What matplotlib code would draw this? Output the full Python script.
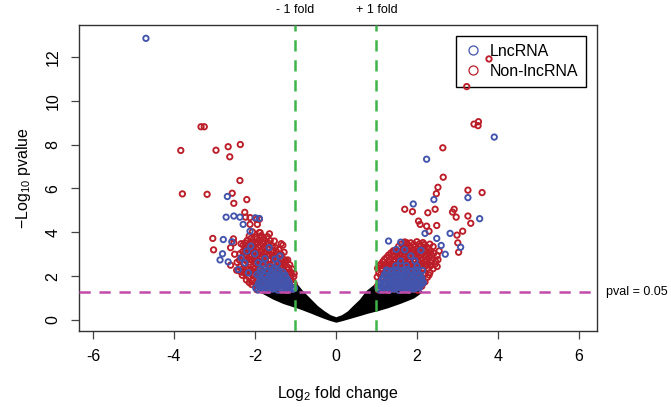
import matplotlib
matplotlib.use("Agg")
import matplotlib.pyplot as plt
from matplotlib.lines import Line2D
import matplotlib.transforms as mtransforms

plt.rcParams['font.family'] = ['Liberation Sans', 'DejaVu Sans']
plt.rcParams['mathtext.fontset'] = 'custom'
plt.rcParams['mathtext.rm'] = 'Liberation Sans'
plt.rcParams['mathtext.it'] = 'Liberation Sans:italic'
plt.rcParams['axes.unicode_minus'] = False

# envelope of the non-significant genes (black cloud)
black_x = [-1.85, -1.55, -1.3, -1.0, -0.99, -0.84, -0.6, -0.47, -0.3, -0.15, 0.0, 0.15,
           0.3, 0.43, 0.6, 0.76, 0.99, 1.0, 1.26, 1.6, 1.91, 2.1]
black_lo = [1.30, 1.00, 0.80, 0.62, 0.62, 0.52, 0.35, 0.25, 0.13, 0.03, -0.05, 0.02,
            0.10, 0.17, 0.26, 0.35, 0.46, 0.46, 0.60, 0.82, 1.05, 1.30]
black_hi = [1.30, 1.32, 1.32, 1.32, 1.65, 1.31, 0.86, 0.62, 0.38, 0.20, 0.10, 0.20,
            0.38, 0.62, 0.92, 1.31, 1.65, 1.32, 1.32, 1.32, 1.32, 1.30]

# non-lncRNA significant genes
red_left = [
    (-1.95, 1.38), (-1.81, 1.42), (-1.66, 1.36), (-1.52, 1.44), (-1.37, 1.39), (-1.21, 1.35), (-1.06, 1.41),
    (-2.08, 1.62), (-1.94, 1.57), (-1.83, 1.66), (-1.69, 1.58), (-1.56, 1.63), (-1.41, 1.55), (-1.29, 1.64),
    (-1.16, 1.59), (-1.03, 1.66),
    (-2.14, 1.71), (-2.00, 1.69), (-1.86, 1.72), (-1.72, 1.68), (-1.58, 1.71), (-1.45, 1.69), (-1.32, 1.72),
    (-1.19, 1.68), (-1.06, 1.71),
    (-2.21, 1.83), (-2.06, 1.77), (-1.91, 1.85), (-1.77, 1.79), (-1.63, 1.86), (-1.49, 1.78), (-1.35, 1.84),
    (-1.23, 1.76), (-1.09, 1.82),
    (-2.31, 2.04), (-2.16, 1.97), (-2.01, 2.05), (-1.86, 1.99), (-1.71, 2.06), (-1.59, 1.98), (-1.44, 2.03),
    (-1.31, 1.96), (-1.16, 2.04), (-1.04, 1.98),
    (-2.24, 2.11), (-2.08, 2.09), (-1.94, 2.12), (-1.80, 2.08), (-1.65, 2.11), (-1.51, 2.09), (-1.37, 2.12),
    (-1.23, 2.08), (-1.10, 2.11),
    (-2.39, 2.24), (-2.24, 2.18), (-2.11, 2.26), (-1.97, 2.19), (-1.82, 2.25), (-1.69, 2.17), (-1.54, 2.23),
    (-1.41, 2.16), (-1.27, 2.22), (-1.13, 2.19), (-1.03, 2.12),
    (-2.30, 2.33), (-2.16, 2.31), (-2.02, 2.34), (-1.88, 2.30), (-1.74, 2.33), (-1.58, 2.31), (-1.45, 2.34),
    (-1.31, 2.30), (-1.16, 2.33),
    (-2.36, 2.42), (-2.21, 2.37), (-2.04, 2.45), (-1.91, 2.38), (-1.76, 2.44), (-1.63, 2.36), (-1.47, 2.43),
    (-1.34, 2.38), (-1.19, 2.41), (-1.08, 2.33),
    (-2.10, 2.30), (-1.90, 2.52), (-1.62, 2.48), (-1.36, 2.50),
    (-2.44, 2.63), (-2.27, 2.57), (-2.13, 2.65), (-1.99, 2.58), (-1.84, 2.64), (-1.71, 2.56), (-1.55, 2.62),
    (-1.41, 2.57), (-1.26, 2.63), (-1.14, 2.52),
    (-2.38, 2.73), (-2.22, 2.71), (-2.08, 2.74), (-1.94, 2.70), (-1.79, 2.73), (-1.66, 2.71), (-1.51, 2.74),
    (-1.37, 2.70), (-1.25, 2.72),
    (-2.31, 2.83), (-2.14, 2.77), (-2.01, 2.85), (-1.87, 2.78), (-1.73, 2.84), (-1.61, 2.76), (-1.44, 2.82),
    (-1.31, 2.79), (-1.19, 2.74),
    (-2.28, 2.93), (-2.12, 2.91), (-1.98, 2.94), (-1.84, 2.90), (-1.70, 2.93), (-1.55, 2.91), (-1.41, 2.94),
    (-2.37, 3.02), (-2.21, 2.97), (-2.04, 3.05), (-1.93, 2.98), (-1.77, 3.04), (-1.64, 2.96), (-1.49, 3.03),
    (-1.35, 2.99),
    (-2.30, 3.12), (-2.15, 3.10), (-2.00, 3.13), (-1.86, 3.10), (-1.73, 3.12), (-1.60, 3.11), (-1.47, 3.13),
    (-2.24, 3.23), (-2.09, 3.17), (-1.96, 3.25), (-1.81, 3.18), (-1.67, 3.24), (-1.54, 3.16), (-1.41, 3.21),
    (-2.20, 3.32), (-2.05, 3.30), (-1.92, 3.33), (-1.78, 3.30), (-1.64, 3.32), (-1.50, 3.31),
    (-2.29, 3.42), (-2.14, 3.38), (-1.99, 3.45), (-1.86, 3.37), (-1.71, 3.44), (-1.57, 3.36), (-1.31, 3.41),
    (-2.24, 3.52), (-2.10, 3.51), (-1.96, 3.53), (-1.82, 3.50), (-1.68, 3.52),
    (-2.19, 3.63), (-2.04, 3.57), (-1.91, 3.64), (-1.76, 3.58), (-1.62, 3.62),
    (-2.10, 3.72), (-1.95, 3.71), (-1.78, 3.73),
    (-2.14, 3.83), (-1.97, 3.78), (-1.84, 3.85), (-1.69, 3.80),
    (-2.06, 4.02), (-1.89, 3.99),
    (-3.33, 8.81), (-3.25, 8.81), (-3.83, 7.73), (-2.96, 7.74), (-2.66, 7.90), (-2.36, 8.00), (-2.62, 7.44),
    (-2.37, 6.36), (-3.79, 5.75), (-3.18, 5.73), (-2.56, 5.78), (-2.20, 5.49), (-2.52, 5.32), (-2.25, 4.91),
    (-2.23, 4.69), (-2.12, 4.67), (-1.96, 4.59), (-1.89, 4.59), (-3.04, 3.72), (-3.02, 3.20), (-2.60, 2.50),
    (-2.45, 2.27), (-2.32, 2.18), (-2.12, 4.36), (-1.94, 4.36), (-1.87, 3.98), (-1.64, 3.93), (-1.52, 3.60),
    (-1.35, 3.48), (-1.28, 3.09), (-1.23, 2.70), (-2.53, 3.70), (-2.52, 3.52), (-2.34, 3.48), (-2.50, 3.00),
    (-2.60, 3.30),
]

red_right = [
    (1.05, 1.37), (1.18, 1.41), (1.30, 1.35), (1.43, 1.40), (1.55, 1.36), (1.68, 1.42), (1.80, 1.37),
    (1.92, 1.40), (2.02, 1.36),
    (1.03, 1.56), (1.15, 1.52), (1.28, 1.58), (1.40, 1.53), (1.52, 1.57), (1.65, 1.51), (1.78, 1.56),
    (1.90, 1.53), (2.04, 1.58), (2.12, 1.54),
    (1.10, 1.66), (1.22, 1.65), (1.35, 1.67), (1.48, 1.64), (1.60, 1.66), (1.73, 1.65), (1.86, 1.67),
    (2.00, 1.64), (2.14, 1.66),
    (1.08, 1.76), (1.20, 1.72), (1.33, 1.77), (1.46, 1.73), (1.58, 1.78), (1.70, 1.71), (1.84, 1.76),
    (1.97, 1.72), (2.10, 1.77), (2.20, 1.74),
    (1.02, 1.96), (1.14, 1.92), (1.26, 1.97), (1.38, 1.93), (1.50, 1.98), (1.63, 1.91), (1.76, 1.96),
    (1.88, 1.93), (2.00, 1.97), (2.14, 1.92), (2.26, 1.95),
    (1.10, 2.06), (1.22, 2.05), (1.35, 2.07), (1.48, 2.04), (1.62, 2.06), (1.76, 2.05), (1.90, 2.07),
    (2.03, 2.04), (2.17, 2.06), (2.30, 2.05),
    (1.06, 2.16), (1.18, 2.12), (1.31, 2.17), (1.44, 2.13), (1.56, 2.18), (1.70, 2.11), (1.82, 2.16),
    (1.95, 2.12), (2.08, 2.17), (2.20, 2.13), (2.32, 2.16),
    (1.03, 2.36), (1.13, 2.33), (1.25, 2.37), (1.37, 2.32), (1.50, 2.38), (1.62, 2.31), (1.75, 2.36),
    (1.88, 2.33), (2.02, 2.37), (2.15, 2.32), (2.28, 2.36), (2.40, 2.34),
    (1.07, 2.46), (1.18, 2.45), (1.30, 2.47), (1.43, 2.44), (1.55, 2.46), (1.68, 2.45), (1.80, 2.47),
    (1.94, 2.44), (2.07, 2.46), (2.20, 2.45), (2.34, 2.47), (2.50, 2.44),
    (1.12, 2.56), (1.24, 2.52), (1.36, 2.57), (1.48, 2.53), (1.60, 2.58), (1.73, 2.51), (1.86, 2.56),
    (1.98, 2.53), (2.12, 2.57), (2.26, 2.52), (2.45, 2.55),
    (1.16, 2.66), (1.30, 2.65), (1.42, 2.67), (1.54, 2.64), (1.66, 2.66), (1.80, 2.65), (1.92, 2.67),
    (2.05, 2.64), (2.18, 2.66), (2.32, 2.65), (2.46, 2.67),
    (1.20, 2.76), (1.34, 2.72), (1.46, 2.77), (1.58, 2.73), (1.70, 2.78), (1.84, 2.71), (1.96, 2.76),
    (2.10, 2.73), (2.24, 2.77), (2.38, 2.72), (2.52, 2.75),
    (1.25, 2.85), (1.52, 2.85), (1.78, 2.88), (2.02, 2.86), (2.30, 2.86),
    (1.30, 2.96), (1.45, 2.92), (1.57, 2.97), (1.70, 2.93), (1.82, 2.98), (1.95, 2.91), (2.08, 2.96),
    (2.22, 2.93), (2.36, 2.97), (2.50, 2.94),
    (1.36, 3.06), (1.50, 3.05), (1.62, 3.05), (1.75, 3.07), (1.88, 3.05), (2.00, 3.06), (2.14, 3.04),
    (2.27, 3.06), (2.42, 3.05),
    (1.42, 3.16), (1.55, 3.12), (1.68, 3.17), (1.80, 3.13), (1.93, 3.18), (2.06, 3.11), (2.20, 3.16),
    (2.34, 3.13), (2.55, 3.15),
    (1.75, 3.25), (2.02, 3.25), (2.30, 3.24),
    (1.55, 3.36), (1.68, 3.32), (1.80, 3.37), (1.95, 3.33), (2.10, 3.38), (2.25, 3.31), (2.40, 3.35),
    (1.62, 3.46), (1.76, 3.45), (1.92, 3.45), (2.06, 3.47), (2.18, 3.44), (2.32, 3.46),
    (1.70, 3.56), (1.85, 3.52), (2.00, 3.57), (2.15, 3.53),
    (3.78, 11.90), (3.23, 10.64), (3.41, 8.93), (3.52, 9.04), (3.51, 8.86), (2.64, 7.85), (2.65, 6.51),
    (2.52, 6.05), (2.48, 5.76), (3.26, 5.92), (3.61, 5.81), (1.70, 5.05), (1.89, 4.94), (2.27, 4.89),
    (2.45, 5.05), (2.88, 4.92), (2.92, 5.05), (2.97, 4.69), (3.26, 4.74), (3.33, 4.41), (2.04, 4.51),
    (2.08, 4.36), (2.24, 4.28), (2.49, 4.31), (2.30, 4.05), (2.99, 3.87), (3.13, 4.05), (3.03, 3.09),
    (3.01, 3.52), (1.42, 3.11), (1.09, 2.50), (1.75, 3.52),
]

# lncRNA significant genes
blue_left = [
    (-1.92, 1.37), (-1.79, 1.40), (-1.67, 1.35), (-1.55, 1.41), (-1.43, 1.36), (-1.31, 1.42), (-1.19, 1.37),
    (-1.07, 1.40),
    (-1.98, 1.46), (-1.85, 1.47), (-1.73, 1.45), (-1.61, 1.47), (-1.49, 1.46), (-1.37, 1.45), (-1.25, 1.47),
    (-1.13, 1.46), (-1.02, 1.45),
    (-1.86, 1.55), (-1.73, 1.52), (-1.61, 1.57), (-1.49, 1.53), (-1.37, 1.58), (-1.25, 1.51), (-1.13, 1.56),
    (-1.92, 1.63), (-1.80, 1.64), (-1.68, 1.62), (-1.56, 1.64), (-1.43, 1.63), (-1.31, 1.62), (-1.19, 1.64),
    (-1.89, 1.72), (-1.77, 1.69), (-1.65, 1.74), (-1.52, 1.70), (-1.40, 1.75), (-1.28, 1.68), (-1.16, 1.73),
    (-1.86, 1.81), (-1.74, 1.82), (-1.62, 1.80), (-1.49, 1.82), (-1.37, 1.81), (-1.24, 1.80),
    (-1.83, 1.90), (-1.70, 1.87), (-1.58, 1.92), (-1.45, 1.88), (-1.33, 1.93), (-1.20, 1.86),
    (-1.90, 1.99), (-1.77, 2.00), (-1.64, 1.98), (-1.52, 2.00), (-1.40, 1.99), (-1.27, 1.98),
    (-1.95, 2.08), (-1.76, 2.05), (-1.62, 2.10), (-1.50, 2.06), (-1.38, 2.11), (-1.25, 2.04),
    (-1.85, 2.18), (-1.69, 2.19), (-1.56, 2.17), (-1.44, 2.19), (-1.31, 2.18),
    (-1.87, 2.30), (-1.70, 2.26), (-1.55, 2.32), (-1.42, 2.27),
    (-1.62, 2.43),
    (-1.80, 2.55), (-1.45, 2.57),
    (-1.75, 2.80), (-1.50, 2.78),
    (-2.00, 3.02), (-1.65, 3.30), (-1.92, 2.62), (-2.25, 2.60), (-1.38, 2.92), (-2.10, 3.37), (-2.20, 3.14),
    (-2.41, 2.30), (-2.16, 2.15), (-2.34, 2.84), (-2.57, 3.57), (-2.29, 4.36), (-2.12, 4.05), (-2.78, 3.67),
    (-2.80, 3.02), (-2.86, 2.74), (-2.66, 2.65), (-2.71, 4.69), (-2.52, 4.74), (-2.37, 4.69), (-1.99, 4.66),
    (-1.89, 4.63), (-2.68, 5.63), (-4.69, 12.84),
]

blue_right = [
    (1.08, 1.37), (1.20, 1.40), (1.32, 1.36), (1.44, 1.41), (1.56, 1.35), (1.68, 1.40), (1.80, 1.37),
    (1.92, 1.41),
    (1.04, 1.46), (1.14, 1.47), (1.26, 1.45), (1.38, 1.47), (1.50, 1.46), (1.62, 1.45), (1.74, 1.47),
    (1.86, 1.46), (1.98, 1.45), (2.06, 1.47),
    (1.12, 1.55), (1.24, 1.52), (1.36, 1.57), (1.48, 1.53), (1.60, 1.56), (1.72, 1.51), (1.84, 1.56),
    (1.96, 1.53), (2.08, 1.57),
    (1.06, 1.64), (1.18, 1.63), (1.30, 1.65), (1.42, 1.64), (1.54, 1.63), (1.66, 1.65), (1.78, 1.64),
    (1.90, 1.63), (2.02, 1.65), (2.12, 1.64),
    (1.10, 1.72), (1.22, 1.69), (1.34, 1.74), (1.46, 1.70), (1.58, 1.75), (1.70, 1.68), (1.82, 1.73),
    (1.94, 1.70), (2.06, 1.74), (2.16, 1.71),
    (1.16, 1.82), (1.28, 1.80), (1.40, 1.82), (1.52, 1.81), (1.64, 1.80), (1.76, 1.82),
    (1.88, 1.81), (2.00, 1.80), (2.12, 1.82),
    (1.15, 1.90), (1.27, 1.87), (1.39, 1.92), (1.51, 1.88), (1.63, 1.93), (1.75, 1.86), (1.87, 1.91),
    (2.00, 1.88), (2.12, 1.92),
    (1.22, 2.00), (1.34, 1.98), (1.46, 2.00), (1.58, 1.99), (1.70, 1.98), (1.82, 2.00),
    (1.94, 1.99), (2.06, 1.98),
    (1.20, 2.08), (1.32, 2.05), (1.44, 2.10), (1.56, 2.06), (1.68, 2.11), (1.80, 2.04), (1.92, 2.09),
    (2.04, 2.06),
    (1.26, 2.19), (1.38, 2.17), (1.50, 2.19), (1.62, 2.18), (1.74, 2.17), (1.86, 2.19),
    (1.98, 2.18),
    (1.25, 2.28), (1.38, 2.25), (1.50, 2.30), (1.62, 2.26), (1.75, 2.31), (1.88, 2.24), (2.00, 2.29),
    (2.14, 2.26),
    (1.48, 2.47), (1.74, 2.48), (2.00, 2.46),
    (1.60, 2.69), (1.95, 2.70),
    (1.85, 2.92),
    (1.70, 3.20), (2.10, 3.18),
    (1.49, 3.22), (2.20, 3.95), (2.82, 3.95), (2.49, 3.72), (3.08, 3.32), (1.91, 5.29), (2.42, 5.49),
    (3.26, 5.58), (2.24, 7.33), (3.91, 8.34), (3.55, 4.62), (1.30, 3.60), (1.60, 3.55), (2.60, 3.40),
    (2.70, 3.00),
]

fold_cut = [-1, 1]
pval_cut = 1.30  # -log10(0.05)

red = '#BC1E29'
blue = '#4254AC'

fig = plt.figure(figsize=(6.71, 4.07), dpi=100)
ax = fig.add_axes([0.1173, 0.1867, 0.772, 0.752])

ax.fill_between(black_x, black_lo, black_hi, color='black', lw=1.5, zorder=1)

for pts, col in [(red_left + red_right, red), (blue_left + blue_right, blue)]:
    xs = [p[0] for p in pts]
    ys = [p[1] for p in pts]
    ax.scatter(xs, ys, s=15, facecolors='none', edgecolors=col, linewidths=1.35, zorder=2)

for v in fold_cut:
    ax.axvline(v, color='#3DB54A', lw=1.8, ls=(0, (4.5, 3.5)), zorder=3)
ax.axhline(pval_cut, color='#C24BAA', lw=1.8, ls=(0, (4.5, 3.5)), zorder=3)

ax.set_xlim(-6.35, 6.44)
ax.set_ylim(-0.5, 13.45)
ax.set_xticks([-6, -4, -2, 0, 2, 4, 6])
ax.set_yticks([0, 2, 4, 6, 8, 10, 12])
ax.set_yticklabels(['0', '2', '4', '6', '8', '10', '12'], rotation=90, va='center')
ax.tick_params(axis='both', labelsize=11.5, length=6, width=0.9, color='#444444', pad=7)
for s in ax.spines.values():
    s.set_color('#333333')
    s.set_linewidth(1.0)

ax.set_xlabel('Log$_2$ fold change', fontsize=11.5, labelpad=14)
ax.set_ylabel('$-$Log$_{10}$ pvalue', fontsize=11.5, labelpad=9)

trans = mtransforms.blended_transform_factory(ax.transData, ax.transAxes)
ax.text(-1, 1.05, '- 1 fold', transform=trans, ha='center', va='center', fontsize=9)
ax.text(1, 1.05, '+ 1 fold', transform=trans, ha='center', va='center', fontsize=9)
trans2 = mtransforms.blended_transform_factory(ax.transAxes, ax.transData)
ax.text(1.018, pval_cut, 'pval = 0.05', transform=trans2, ha='left', va='center', fontsize=9)

handles = [Line2D([], [], ls='none', marker='o', mfc='none', mec=blue, ms=6.5, mew=0.9),
           Line2D([], [], ls='none', marker='o', mfc='none', mec=red, ms=6.5, mew=0.9)]
leg = ax.legend(handles, ['LncRNA', 'Non-lncRNA'], loc='upper right', bbox_to_anchor=(0.979, 0.964),
                borderaxespad=0, fontsize=11.5, fancybox=False, framealpha=1, edgecolor='black',
                handletextpad=0.4, handlelength=1.2, borderpad=0.5, labelspacing=0.3)
leg.get_frame().set_linewidth(1.0)
leg.set_zorder(1)

fig.savefig('out.png', dpi=100)
